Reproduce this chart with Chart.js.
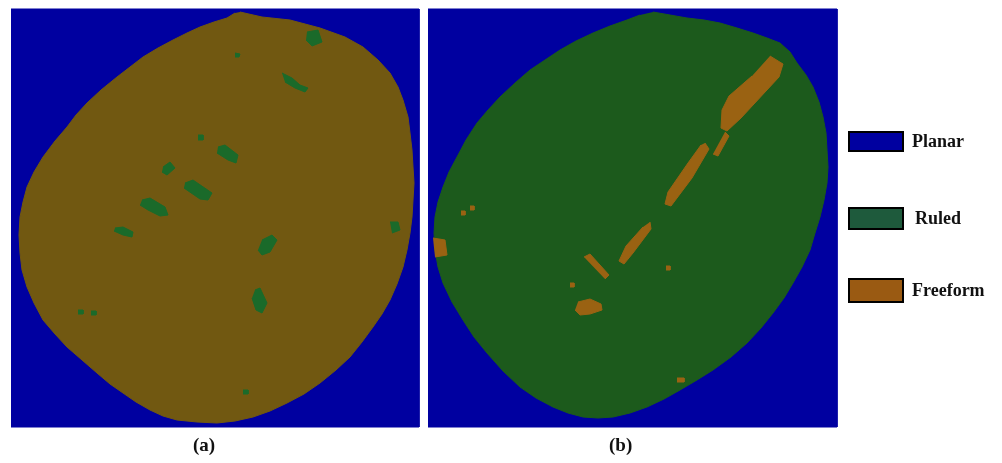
<!DOCTYPE html>
<html>
<head>
<meta charset="utf-8">
<script src="https://cdn.jsdelivr.net/npm/chart.js@4"></script>
<style>
  html, body { margin: 0; padding: 0; background: #fff; }
  #wrap { position: relative; width: 1002px; height: 463px; }
  #chart { position: absolute; left: 0; top: 0; }
  .lbl { position: absolute; font-family: "Liberation Serif", serif; font-weight: bold; color: #111; white-space: nowrap; }
  .box { position: absolute; border: 2px solid #000; box-sizing: border-box; }
</style>
</head>
<body>
<div id="wrap">
  <canvas id="chart" width="1002" height="463"></canvas>
  <div id="legend"></div>
  <div class="lbl" style="left:193px;top:434px;font-size:19px;">(a)</div>
  <div class="lbl" style="left:609px;top:434px;font-size:19px;">(b)</div>
</div>
<script>
// surface classes
var classes = ["Planar", "Ruled", "Freeform"];
var classColors = ["#0000a0", "#1e5a3c", "#9a5a12"];

// panel frames (planar background), image coords [x, y]
var panelA = [[11,9],[419,9],[419,427],[11,427]];
var panelB = [[428,9],[837,9],[837,427],[428,427]];

// (a) freeform blob outline
var blobA = [[240,12],[262,17],[290,20],[320,28],[345,37],[363,47],[378,60],[390,73],[398,87],[403,100],[408,117],[410,133],[412,150],[413,167],[414,183],[413,200],[412,217],[410,233],[407,250],[403,267],[397,284],[390,300],[382,314],[373,327],[362,342],[350,357],[336,370],[320,383],[304,394],[287,403],[270,411],[253,417],[235,421],[217,423],[197,422],[177,420],[163,416],[150,410],[136,402],[123,393],[110,384],[97,373],[82,360],[67,347],[55,334],[43,320],[34,303],[27,287],[22,270],[20,253],[19,235],[20,217],[23,202],[27,187],[34,172],[43,157],[55,141],[67,127],[76,115],[87,103],[101,90],[117,77],[130,67],[143,57],[158,48],[173,40],[187,33],[200,27],[214,22],[227,18],[235,13]];

// (a) ruled patches
var patchesA = [
  [[307,32],[318,30],[322,42],[312,46],[306,40]],
  [[282,73],[292,78],[300,85],[308,88],[305,92],[295,88],[285,82]],
  [[218,147],[225,145],[238,155],[236,163],[228,160],[217,153]],
  [[163,167],[170,162],[175,168],[167,175],[162,172]],
  [[185,183],[193,180],[212,193],[208,200],[200,199],[184,188]],
  [[142,200],[150,198],[165,207],[168,215],[160,216],[148,210],[140,205]],
  [[115,228],[123,227],[133,232],[132,237],[123,235],[114,231]],
  [[262,240],[272,235],[277,240],[270,252],[262,255],[258,250]],
  [[255,290],[260,288],[267,303],[262,313],[256,310],[252,298]],
  [[390,222],[398,222],[400,230],[392,233]],
  [[235,53],[240,54],[239,57],[235,57]],
  [[198,135],[203,135],[203,140],[198,140]],
  [[78,310],[83,310],[83,314],[78,314]],
  [[91,311],[96,311],[96,315],[91,315]],
  [[243,390],[248,390],[248,394],[243,394]]
];

// (b) ruled blob outline
var blobB = [[653,12],[670,15],[687,18],[704,20],[720,23],[737,28],[753,33],[767,38],[780,43],[790,52],[797,63],[806,75],[813,87],[819,102],[823,117],[826,133],[827,150],[828,167],[827,183],[824,200],[820,217],[815,233],[810,250],[802,267],[793,283],[784,298],[773,313],[761,328],[747,343],[731,357],[713,370],[697,380],[680,390],[664,399],[647,407],[630,413],[613,417],[598,418],[583,417],[568,413],[553,407],[536,398],[520,387],[503,371],[487,353],[474,337],[463,320],[452,302],[443,283],[438,267],[435,250],[434,233],[435,217],[438,202],[443,187],[449,172],[457,157],[466,140],[477,123],[488,110],[500,97],[515,83],[530,70],[545,60],[560,50],[576,41],[593,33],[610,26],[627,20],[640,15]];

// (b) freeform strips
var patchesB = [
  [[770,56],[783,64],[779,77],[741,118],[727,131],[721,128],[722,110],[729,96],[752,76]],
  [[725,132],[729,136],[718,156],[713,154]],
  [[705,143],[709,149],[692,178],[671,206],[665,204],[668,192],[688,163],[701,145]],
  [[650,222],[651,229],[633,253],[624,264],[619,261],[626,246],[643,227]],
  [[584,257],[590,254],[609,275],[605,279]],
  [[578,302],[590,299],[601,304],[602,310],[590,314],[580,315],[575,310]],
  [[433,238],[445,240],[447,255],[435,257]],
  [[461,211],[465,211],[465,215],[461,215]],
  [[470,206],[474,206],[474,210],[470,210]],
  [[570,283],[574,283],[574,287],[570,287]],
  [[666,266],[670,266],[670,270],[666,270]],
  [[677,378],[684,378],[684,382],[677,382]]
];

function toPts(arr) {
  return arr.map(function (p) { return { x: p[0], y: p[1] }; });
}

function shape(arr, color, order) {
  return {
    data: toPts(arr),
    showLine: true,
    fill: 'shape',
    backgroundColor: color,
    borderColor: color,
    borderWidth: 1,
    pointRadius: 0,
    tension: 0,
    order: order
  };
}

var datasets = [];
datasets.push(shape(panelA, "#0000a0", 3));
datasets.push(shape(panelB, "#0000a0", 3));
datasets.push(shape(blobA, "#715811", 2));
datasets.push(shape(blobB, "#1c5a1c", 2));
patchesA.forEach(function (p) { datasets.push(shape(p, "#1a6a2a", 1)); });
patchesB.forEach(function (p) { datasets.push(shape(p, "#9a6212", 1)); });

new Chart(document.getElementById("chart").getContext("2d"), {
  type: 'scatter',
  data: { datasets: datasets },
  options: {
    responsive: false,
    animation: false,
    events: [],
    layout: { padding: 0 },
    plugins: { legend: { display: false }, tooltip: { enabled: false } },
    scales: {
      x: { type: 'linear', min: 0, max: 1002, display: false },
      y: { type: 'linear', min: 0, max: 463, reverse: true, display: false }
    }
  }
});

// legend on the right
var boxTops = [131, 207, 278];
var boxHeights = [21, 23, 25];
var legend = document.getElementById("legend");
for (var i = 0; i < classes.length; i++) {
  var b = document.createElement("div");
  b.className = "box";
  b.style.left = "848px";
  b.style.top = boxTops[i] + "px";
  b.style.width = "56px";
  b.style.height = boxHeights[i] + "px";
  b.style.background = classColors[i];
  legend.appendChild(b);
  var t = document.createElement("div");
  t.className = "lbl";
  t.style.left = (i == 1 ? 915 : 912) + "px";
  t.style.top = (boxTops[i] + boxHeights[i] / 2 - 11) + "px";
  t.style.fontSize = "18px";
  t.textContent = classes[i];
  legend.appendChild(t);
}
</script>
</body>
</html>
